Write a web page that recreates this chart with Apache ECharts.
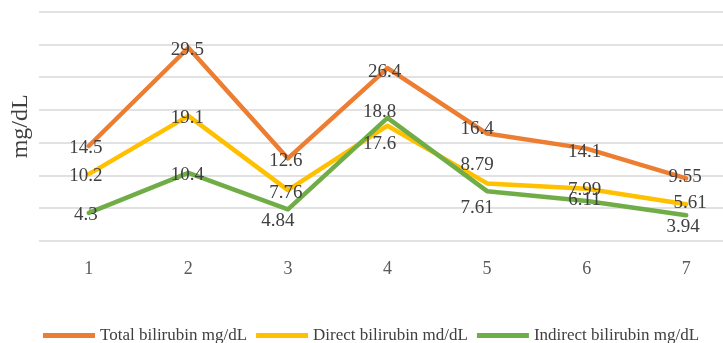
<!DOCTYPE html>
<html>
<head>
<meta charset="utf-8">
<script src="https://cdn.jsdelivr.net/npm/echarts@6/dist/echarts.min.js"></script>
<style>
  html, body { margin: 0; padding: 0; background: #fff; }
  #chart { width: 723px; height: 343px; }
</style>
</head>
<body>
<div id="chart"></div>
<script>
// Bilirubin readings over seven measurements
const categories = ['1', '2', '3', '4', '5', '6', '7'];
const seriesNames = ['Total bilirubin mg/dL', 'Direct bilirubin md/dL', 'Indirect bilirubin mg/dL'];
const totalBilirubin = [14.5, 29.5, 12.6, 26.4, 16.4, 14.1, 9.55];
const directBilirubin = [10.2, 19.1, 7.76, 17.6, 8.79, 7.99, 5.61];
const indirectBilirubin = [4.3, 10.4, 4.84, 18.8, 7.61, 6.11, 3.94];

// Nudges (px) for value labels so overlapping ones stay readable
const totalLabelShift = [[-3, 2], [-1, 2], [-2, 3], [-3, 4], [-10, -5], [-2, 3], [-1, -1]];
const directLabelShift = [[-3, 2], [-1, 2], [-2, 3], [-8, 18], [-10, -18], [-2, 1], [4, -1]];
const indirectLabelShift = [[-3, 2], [-1, 2], [-10, 12], [-8, -6], [-10, 17], [-2, -1], [-3, 12]];

const colors = ['#ED7D31', '#FFC000', '#70AD47'];
const serif = '"Liberation Serif", "Times New Roman", serif';

function buildData(values, shifts) {
  return values.map((v, i) => ({
    value: v,
    label: { offset: shifts[i] }
  }));
}

function lineSeries(name, values, shifts, color) {
  return {
    name: name,
    type: 'line',
    data: buildData(values, shifts),
    symbol: 'circle',
    symbolSize: 1,
    showSymbol: true,
    lineStyle: { color: color, width: 4.5, cap: 'round', join: 'round' },
    itemStyle: { color: color },
    label: {
      show: true,
      position: 'inside',
      fontFamily: serif,
      fontSize: 19,
      color: '#404040'
    },
    emphasis: { disabled: true },
    animation: false
  };
}

const chart = echarts.init(document.getElementById('chart'), null, { renderer: 'canvas' });
chart.setOption({
  backgroundColor: '#ffffff',
  animation: false,
  color: colors,
  grid: {
    left: 39, top: 11.7, width: 697, height: 229.3,
    containLabel: false,
    outerBoundsMode: 'none'
  },
  legend: {
    data: seriesNames,
    left: 38,
    top: 322,
    itemWidth: 52,
    itemHeight: 5,
    itemGap: 9,
    icon: 'rect',
    textStyle: { fontFamily: serif, fontSize: 17, color: '#404040' }
  },
  xAxis: {
    type: 'category',
    data: categories,
    boundaryGap: true,
    axisLine: { show: false },
    axisTick: { show: false },
    axisLabel: { margin: 19, fontFamily: serif, fontSize: 18, color: '#595959' }
  },
  yAxis: {
    type: 'value',
    min: 0,
    max: 35,
    interval: 5,
    name: 'mg/dL',
    nameLocation: 'middle',
    nameRotate: 90,
    nameGap: 6,
    nameTextStyle: { fontFamily: serif, fontSize: 24, color: '#404040' },
    axisLabel: { show: false },
    axisLine: { show: false },
    axisTick: { show: false },
    splitLine: { lineStyle: { color: '#D9D9D9', width: 1.5 } }
  },
  series: [
    lineSeries(seriesNames[0], totalBilirubin, totalLabelShift, colors[0]),
    lineSeries(seriesNames[1], directBilirubin, directLabelShift, colors[1]),
    lineSeries(seriesNames[2], indirectBilirubin, indirectLabelShift, colors[2])
  ]
});
</script>
</body>
</html>
